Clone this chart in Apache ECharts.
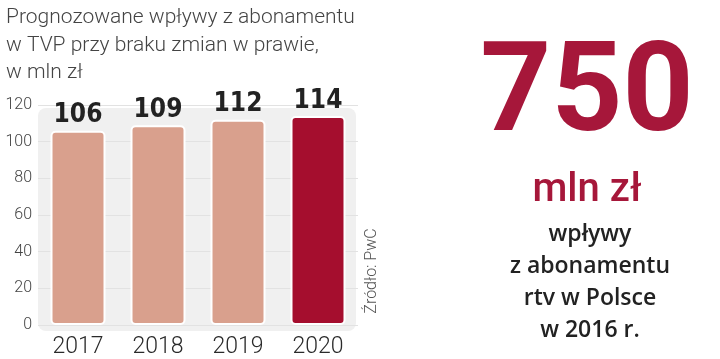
<!DOCTYPE html>
<html>
<head>
<meta charset="utf-8">
<script src="https://cdn.jsdelivr.net/npm/echarts@6/dist/echarts.min.js"></script>
<style>
html,body{margin:0;padding:0;background:#fff;}
#c{width:720px;height:359px;}
</style>
</head>
<body>
<div id="c"></div>
<script>
var categories = ['2017', '2018', '2019', '2020'];
var values = [106, 109, 112, 114];
var barColors = ['#D9A08D', '#D9A08D', '#D9A08D', '#A50E2E'];
var yTicks = [0, 20, 40, 60, 80, 100, 120];
var titleText = 'Prognozowane wpływy z abonamentu\nw TVP przy braku zmian w prawie,\nw mln zł';
var sourceText = 'Źródło: PwC';
var bigNumber = '750';
var bigUnit = 'mln zł';
var bigCaption = 'wpływy\nz abonamentu\nrtv w Polsce\nw 2016 r.';

var chart = echarts.init(document.getElementById('c'), null, {renderer: 'canvas'});
var option = {
  backgroundColor: '#ffffff',
  animation: false,
  title: {
    text: titleText,
    left: 1,
    top: -1,
    textStyle: {
      fontFamily: 'Roboto',
      fontWeight: 300,
      fontSize: 21,
      lineHeight: 27.5,
      color: '#444444'
    }
  },
  grid: {left: 38, top: 105, width: 320, height: 221, containLabel: false},
  xAxis: {
    type: 'category',
    data: categories,
    axisLine: {show: false},
    axisTick: {show: false},
    axisLabel: {
      fontFamily: 'Roboto',
      fontWeight: 300,
      fontSize: 23,
      color: '#2a2a2a',
      margin: 11
    }
  },
  yAxis: {
    type: 'value',
    min: yTicks[0],
    max: yTicks[yTicks.length - 1],
    interval: 20,
    axisLine: {show: false},
    axisTick: {show: false},
    axisLabel: {
      fontFamily: 'Roboto',
      fontWeight: 300,
      fontSize: 16,
      color: '#444444',
      margin: 6
    },
    splitLine: {lineStyle: {color: '#e2e2e2', width: 1}}
  },
  series: [{
    type: 'bar',
    barWidth: 55,
    data: values.map(function (v, i) {
      return {value: v, itemStyle: {color: barColors[i]}};
    }),
    itemStyle: {borderColor: '#ffffff', borderWidth: 2, borderRadius: 4},
    label: {
      show: true,
      position: 'top',
      distance: 2,
      fontFamily: '"DejaVu Sans Condensed", "Liberation Sans Narrow", sans-serif',
      fontWeight: 'bold',
      fontSize: 26,
      color: '#222222'
    },
    z: 3
  }],
  graphic: [
    {
      type: 'rect',
      shape: {x: 38, y: 108, width: 318, height: 223, r: 8},
      style: {fill: '#f0f0f0'},
      z: -10,
      silent: true
    },
    {
      type: 'text',
      x: 372,
      y: 271,
      rotation: Math.PI / 2,
      style: {
        text: sourceText,
        fontFamily: 'Roboto',
        fontWeight: 300,
        fontSize: 16,
        fill: '#555555',
        textAlign: 'center',
        textVerticalAlign: 'middle'
      }
    },
    {
      type: 'text',
      x: 587,
      y: 99,
      style: {
        text: bigNumber,
        fontFamily: 'Roboto',
        fontWeight: 'bold',
        fontSize: 124,
        fill: '#A6173A',
        textAlign: 'center',
        textVerticalAlign: 'middle'
      }
    },
    {
      type: 'text',
      x: 587,
      y: 191,
      style: {
        text: bigUnit,
        fontFamily: 'Roboto',
        fontWeight: 500,
        fontSize: 40,
        fill: '#A6173A',
        textAlign: 'center',
        textVerticalAlign: 'middle'
      }
    },
    {
      type: 'text',
      x: 590,
      y: 218,
      style: {
        text: bigCaption,
        fontFamily: '"Open Sans"',
        fontWeight: 600,
        fontSize: 23,
        lineHeight: 32,
        fill: '#222222',
        textAlign: 'center',
        textVerticalAlign: 'top'
      }
    }
  ]
};
chart.setOption(option);
</script>
</body>
</html>
